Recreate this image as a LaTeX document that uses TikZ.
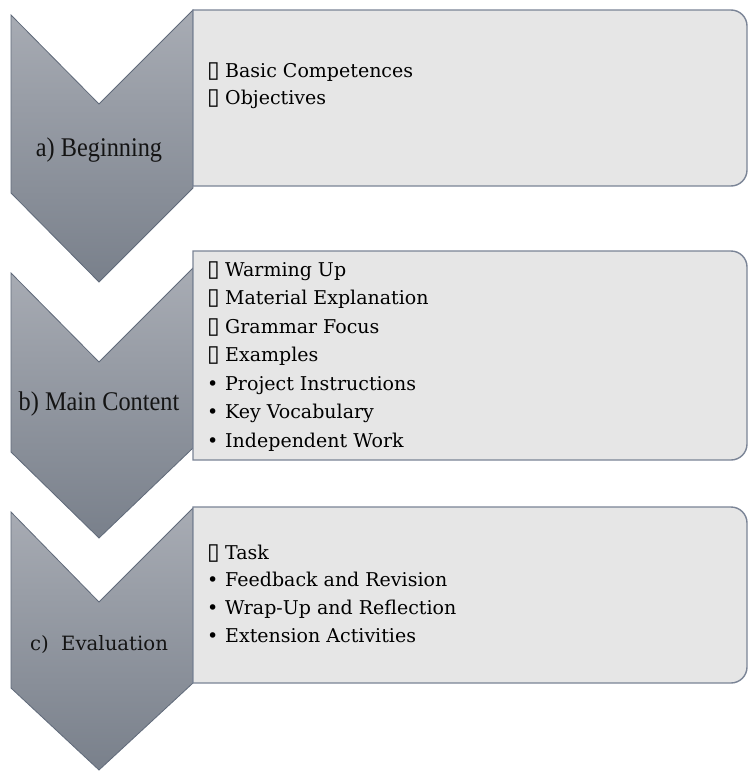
\documentclass[tikz,border=0pt]{standalone}
\usepackage{fontspec}
\setmainfont{Liberation Serif}
\newfontfamily\itemfont{DejaVu Serif}
\newfontfamily\markfont{DejaVu Sans}
\usetikzlibrary{matrix}
\definecolor{chevTop}{RGB}{168,172,180}
\definecolor{chevBottom}{RGB}{121,128,139}
\definecolor{chevEdge}{RGB}{96,106,122}
\definecolor{boxFill}{RGB}{230,230,230}
\definecolor{boxEdge}{RGB}{122,132,150}
\tikzset{
  chevron/.style={top color=chevTop, bottom color=chevBottom, draw=chevEdge, line width=0.8pt},
  itembox/.style={fill=boxFill, draw=boxEdge, line width=1.4pt},
  stagelabel/.style={font=\fontsize{27}{30}\selectfont, inner sep=0pt, anchor=base, text=black!92},
  itemlist/.style={matrix of nodes, anchor=north west, inner sep=0pt,
    nodes={anchor=base west, inner sep=0pt, text height=14pt, text depth=14pt,
      font=\itemfont\fontsize{19}{28}\selectfont, text=black},
    column 1/.style={nodes={text width=18pt}}}
}
\begin{document}
\begin{tikzpicture}[x=1pt,y=-1pt]
    \newcommand{\boxMark}{{\markfont\fontsize{23}{28}\selectfont ▯}}
    \newcommand{\dotMark}{•}
    \newcommand{\itemBox}[2]{
        \draw[itembox] (193,#1) -- (731,#1) arc[start angle=270, end angle=360, radius=16]
          -- (747,#2-16) arc[start angle=0, end angle=90, radius=16] -- (193,#2) -- cycle;
    }
\fill[white] (0,0) rectangle (748,771);
\useasboundingbox (0,0) rectangle (748,771);

% chevrons
\draw[chevron] (11,15) -- (99,104) -- (193,10) -- (193,188) -- (99,282) -- (11,193) -- cycle;
\draw[chevron] (11,273) -- (99,362) -- (193,268) -- (193,448) -- (99,538) -- (11,452) -- cycle;
\draw[chevron] (11,512) -- (99,602) -- (193,508) -- (193,683) -- (99,770) -- (11,688) -- cycle;

% boxes
\itemBox{10}{186}
\itemBox{251}{460}
\itemBox{507}{683}

\node[stagelabel] (beginLabel) at (99,156) {\scalebox{.9}[1]{a) Beginning}};
\node[stagelabel] (mainLabel) at (99,410) {\scalebox{.9}[1]{b) Main Content}};
\node[stagelabel, font=\itemfont\fontsize{19.7}{24}\selectfont] (evalLabel) at (99,650) {c)\ \ Evaluation};

  \matrix (beginList) [itemlist, row sep=-1pt] at (207,63)
  {
    \boxMark & Basic Competences\\
    \boxMark & Objectives\\
  };
  \matrix (mainList) [itemlist, row sep=0.5pt] at (207,262)
  {
    \boxMark & Warming Up\\
    \boxMark & Material Explanation\\
    \boxMark & Grammar Focus\\
    \boxMark & Examples\\
    \dotMark & Project Instructions\\
    \dotMark & Key Vocabulary\\
    \dotMark & Independent Work\\
  };
  \matrix (evalList) [itemlist, row sep=-0.3pt] at (207,545)
  {
    \boxMark & Task\\
    \dotMark & Feedback and Revision\\
    \dotMark & Wrap-Up and Reflection\\
    \dotMark & Extension Activities\\
  };

\end{tikzpicture}
\end{document}
